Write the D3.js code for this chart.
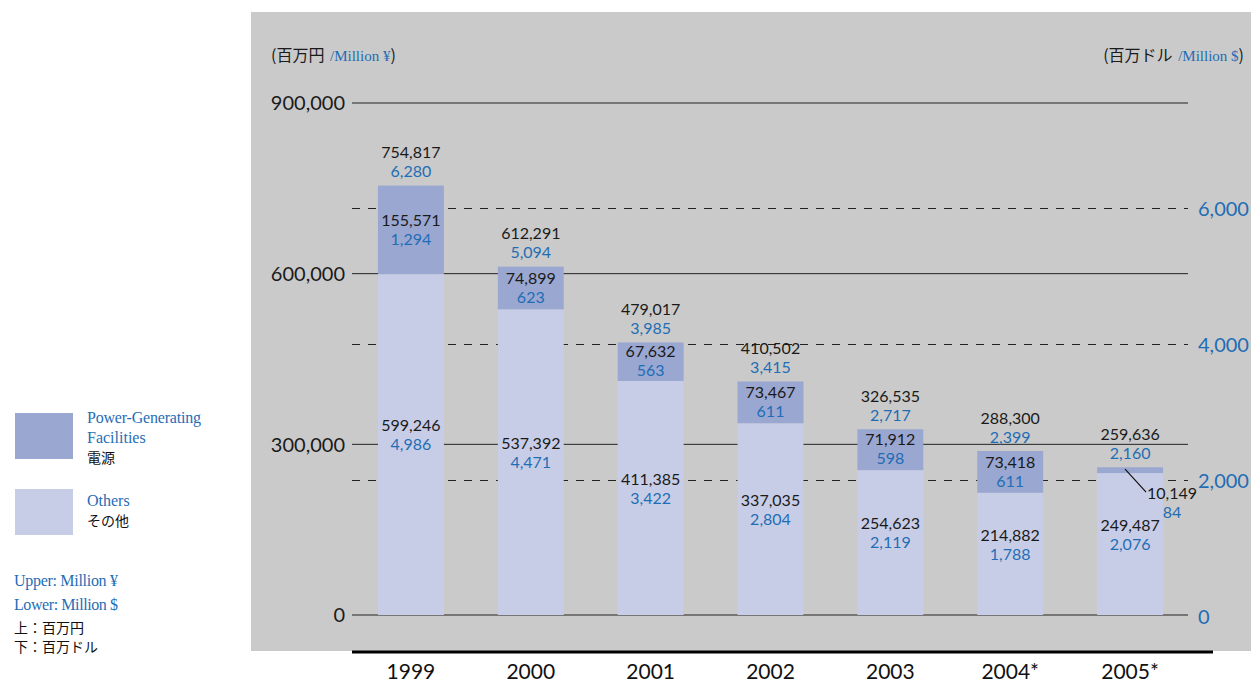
<!DOCTYPE html>
<html><head><meta charset="utf-8">
<script src="https://cdn.jsdelivr.net/npm/d3@7/dist/d3.min.js"></script>
<style>
body{margin:0;background:#fff;}
svg{display:block;}
</style></head><body>
<svg id="c" width="1251" height="683"></svg>
<script>
const years = ["1999","2000","2001","2002","2003","2004*","2005*"];
const othersYen = [599246,537392,411385,337035,254623,214882,249487];
const othersUsd = [4986,4471,3422,2804,2119,1788,2076];
const powerYen = [155571,74899,67632,73467,71912,73418,10149];
const powerUsd = [1294,623,563,611,598,611,84];
const totalYen = [754817,612291,479017,410502,326535,288300,259636];
const totalUsd = [6280,5094,3985,3415,2717,2399,2160];
const yenTicks = [0,300000,600000,900000];
const usdTicks = [0,2000,4000,6000];

const BLUE = "#1f6db5", C_POWER = "#9aa7d1", C_OTHER = "#c8cde7";
const NUM = "Lato, 'Open Sans', sans-serif";
const SERIF = "'Liberation Serif', serif";
const CJK = "'Noto Sans CJK JP', sans-serif";
const fmt = d3.format(",");

const svg = d3.select("#c");
svg.append("rect").attr("x",251).attr("y",12).attr("width",1000).attr("height",639).attr("fill","#cacaca");

const x = d3.scaleBand().domain(years).range([351,1190]).paddingInner(0.45).paddingOuter(0.225);
const y = d3.scaleLinear().domain([0,900000]).range([615,103]);
const y2 = d3.scaleLinear().domain([0,7530]).range([615,103]);

// grid lines
const g = svg.append("g");
g.selectAll("line.s").data(yenTicks).join("line")
  .attr("x1",352).attr("x2",1188).attr("y1",d=>y(d)).attr("y2",d=>y(d))
  .attr("stroke","#222").attr("stroke-width",1);
g.selectAll("line.d").data(usdTicks.filter(d=>d>0)).join("line")
  .attr("x1",352).attr("x2",1188).attr("y1",d=>Math.round(y2(d))+1.5).attr("y2",d=>Math.round(y2(d))+1.5)
  .attr("stroke","#222").attr("stroke-width",1).attr("stroke-dasharray","8,8");

// left axis labels
svg.append("g").selectAll("text").data(yenTicks).join("text")
  .attr("x",345).attr("y",d=>y(d)).attr("dy","0.36em").attr("text-anchor","end")
  .attr("font-family",NUM).attr("font-size",20).attr("fill","#1a1a1a").text(d=>fmt(d));
// right axis labels
svg.append("g").selectAll("text").data(usdTicks).join("text")
  .attr("x",1198).attr("y",d=>y2(d)+2).attr("dy","0.36em").attr("text-anchor","start")
  .attr("font-family",NUM).attr("font-size",20).attr("fill",BLUE).text(d=>fmt(d));

// bars
const bw = x.bandwidth();
svg.append("g").selectAll("rect").data(years).join("rect")
  .attr("x",d=>x(d)).attr("width",bw)
  .attr("y",(d,i)=>y(othersYen[i])).attr("height",(d,i)=>y(0)-y(othersYen[i]))
  .attr("fill",C_OTHER);
svg.append("g").selectAll("rect").data(years).join("rect")
  .attr("x",d=>x(d)).attr("width",bw)
  .attr("y",(d,i)=>y(totalYen[i])).attr("height",(d,i)=>y(othersYen[i])-y(totalYen[i]))
  .attr("fill",C_POWER);

function pair(cx, cy, top, bot){
  const t = svg.append("g");
  t.append("text").attr("x",cx).attr("y",cy).attr("dy","0.36em").attr("text-anchor","middle")
    .attr("font-family",NUM).attr("font-size",16).attr("fill","#1a1a1a").text(top);
  t.append("text").attr("x",cx).attr("y",cy+19).attr("dy","0.36em").attr("text-anchor","middle")
    .attr("font-family",NUM).attr("font-size",16).attr("fill",BLUE).text(bot);
}
years.forEach((yr,i)=>{
  const cx = x(yr)+bw/2;
  const top = y(totalYen[i]);
  pair(cx, top-33, fmt(totalYen[i]), fmt(totalUsd[i]));
  const midO = (y(othersYen[i])+y(0))/2;
  pair(cx, midO-19, fmt(othersYen[i]), fmt(othersUsd[i]));
  const midP = (y(totalYen[i])+y(othersYen[i]))/2;
  if (i < years.length-1) {
    pair(cx, midP-10, fmt(powerYen[i]), fmt(powerUsd[i]));
  } else {
    svg.append("line").attr("x1",cx-5).attr("y1",midP-1).attr("x2",cx+16).attr("y2",midP+22)
      .attr("stroke","#111").attr("stroke-width",1.2);
    pair(cx+42, midP+23, fmt(powerYen[i]), fmt(powerUsd[i]));
  }
});

// bottom baseline + year labels
svg.append("line").attr("x1",352).attr("x2",1213).attr("y1",652).attr("y2",652).attr("stroke","#000").attr("stroke-width",3);
svg.append("g").selectAll("text").data(years).join("text")
  .attr("x",d=>x(d)+bw/2).attr("y",679).attr("text-anchor","middle")
  .attr("font-family",NUM).attr("font-size",21).attr("fill","#111").text(d=>d);

// axis titles
function title(xp, anchor, jp, en){
  const t = svg.append("text").attr("x",xp).attr("y",55).attr("dy","0.36em").attr("text-anchor",anchor);
  t.append("tspan").attr("font-family",CJK).attr("font-size",16).attr("fill","#1a1a1a").text("("+jp+" ");
  t.append("tspan").attr("font-family",SERIF).attr("font-size",15).attr("fill",BLUE).attr("dx",2).text("/Million "+en);
  t.append("tspan").attr("font-family",CJK).attr("font-size",16).attr("fill","#1a1a1a").text(")");
}
title(271,"start","百万円","¥");
title(1244,"end","百万ドル","$");

// legend
const leg = svg.append("g");
leg.append("rect").attr("x",15).attr("y",413).attr("width",58).attr("height",46).attr("fill",C_POWER);
leg.append("rect").attr("x",15).attr("y",489).attr("width",58).attr("height",46).attr("fill",C_OTHER);
const lt = [
  {t:"Power-Generating", y:417, f:SERIF, c:BLUE, s:16},
  {t:"Facilities", y:437, f:SERIF, c:BLUE, s:16},
  {t:"電源", y:458, f:CJK, c:"#111", s:14},
  {t:"Others", y:500, f:SERIF, c:BLUE, s:16},
  {t:"その他", y:521, f:CJK, c:"#111", s:14}
];
leg.selectAll("text.a").data(lt).join("text").attr("x",87).attr("y",d=>d.y).attr("dy","0.36em")
  .attr("font-family",d=>d.f).attr("font-size",d=>d.s).attr("fill",d=>d.c)
  .attr("textLength",d=>d.t==="Power-Generating"?114:null)
  .text(d=>d.t);
const nt = [
  {t:"Upper: Million ¥", y:580, f:SERIF, c:BLUE, s:16, w:104},
  {t:"Lower: Million $", y:604, f:SERIF, c:BLUE, s:16, w:104},
  {t:"上：百万円", y:628, f:CJK, c:"#111", s:14, w:null},
  {t:"下：百万ドル", y:647, f:CJK, c:"#111", s:14, w:null}
];
leg.selectAll("text.b").data(nt).join("text").attr("x",14).attr("y",d=>d.y).attr("dy","0.36em")
  .attr("font-family",d=>d.f).attr("font-size",d=>d.s).attr("fill",d=>d.c)
  .attr("textLength",d=>d.w).text(d=>d.t);
</script>
</body></html>
